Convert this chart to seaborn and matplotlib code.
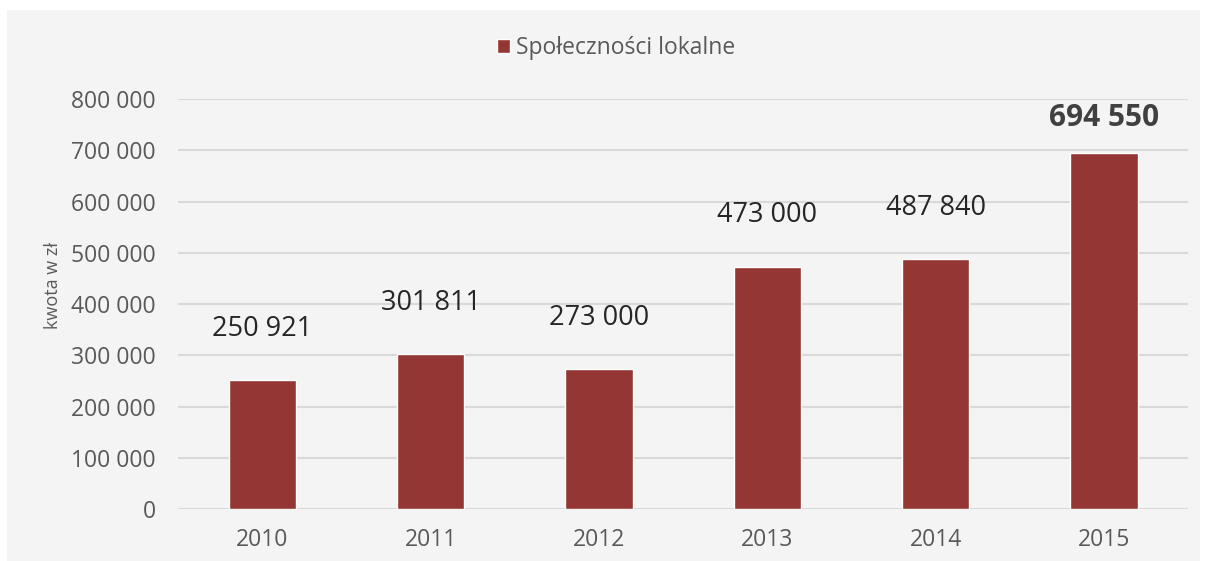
import matplotlib
matplotlib.use('Agg')
import matplotlib.pyplot as plt
import seaborn as sns
import pandas as pd
from matplotlib.patches import Rectangle
from matplotlib.ticker import FuncFormatter

# dane
lata = ['2010', '2011', '2012', '2013', '2014', '2015']
kwoty = [250921, 301811, 273000, 473000, 487840, 694550]
seria = 'Społeczności lokalne'
os_y = 'kwota w zł'

df = pd.DataFrame({'rok': lata, 'kwota': kwoty})

sns.set_style('white')
plt.rcParams['font.family'] = ['Open Sans', 'DejaVu Sans']

kolor = '#943634'
tlo = '#f4f4f4'
szary = '#595959'

fig = plt.figure(figsize=(12.06, 5.61), dpi=100)
fig.patch.set_facecolor('white')
fig.add_artist(Rectangle((7 / 1206, 0), 1193 / 1206, 0.982,
                         transform=fig.transFigure, facecolor=tlo,
                         edgecolor='none', zorder=-10))

ax = fig.add_axes([0.1476, 0.0927, 0.8375, 0.7308])
ax.set_facecolor(tlo)

sns.barplot(data=df, x='rok', y='kwota', color=kolor, width=0.4,
            saturation=1, ax=ax, label=seria, zorder=3)

ax.set_ylim(0, 800000)
ax.set_xlim(-0.5, 5.5)
ax.set_yticks(range(0, 800001, 100000))
ax.yaxis.set_major_formatter(FuncFormatter(lambda v, p: f'{int(v):,}'.replace(',', ' ')))
ax.grid(axis='y', color='#d9d9d9', linewidth=1.5, zorder=0)
ax.set_axisbelow(True)
for s in ax.spines.values():
    s.set_visible(False)
ax.tick_params(axis='y', length=0, pad=16, labelsize=16.5, labelcolor=szary)
ax.tick_params(axis='x', length=0, pad=14, labelsize=16.5, labelcolor=szary)
ax.set_xlabel('')
ax.set_ylabel(os_y, fontsize=13, color=szary)
ax.yaxis.set_label_coords(-0.115, 0.546)

# etykiety wartości
for i, v in enumerate(kwoty):
    tekst = f'{v:,}'.replace(',', ' ')
    ostatni = i == len(kwoty) - 1
    ax.annotate(tekst, (i, v), xytext=(0, 25 if ostatni else 37),
                textcoords='offset points', ha='center', va='center',
                fontsize=21.5 if ostatni else 19.5,
                fontweight='bold' if ostatni else 'normal',
                color='#404040' if ostatni else '#262626')

leg = ax.legend(loc='center', bbox_to_anchor=(0.511, 0.914),
                bbox_transform=fig.transFigure, frameon=False, fontsize=16.5,
                handlelength=0.55, handleheight=0.55, handletextpad=0.3)
for t in leg.get_texts():
    t.set_color(szary)

plt.savefig('out.png', dpi=100)
